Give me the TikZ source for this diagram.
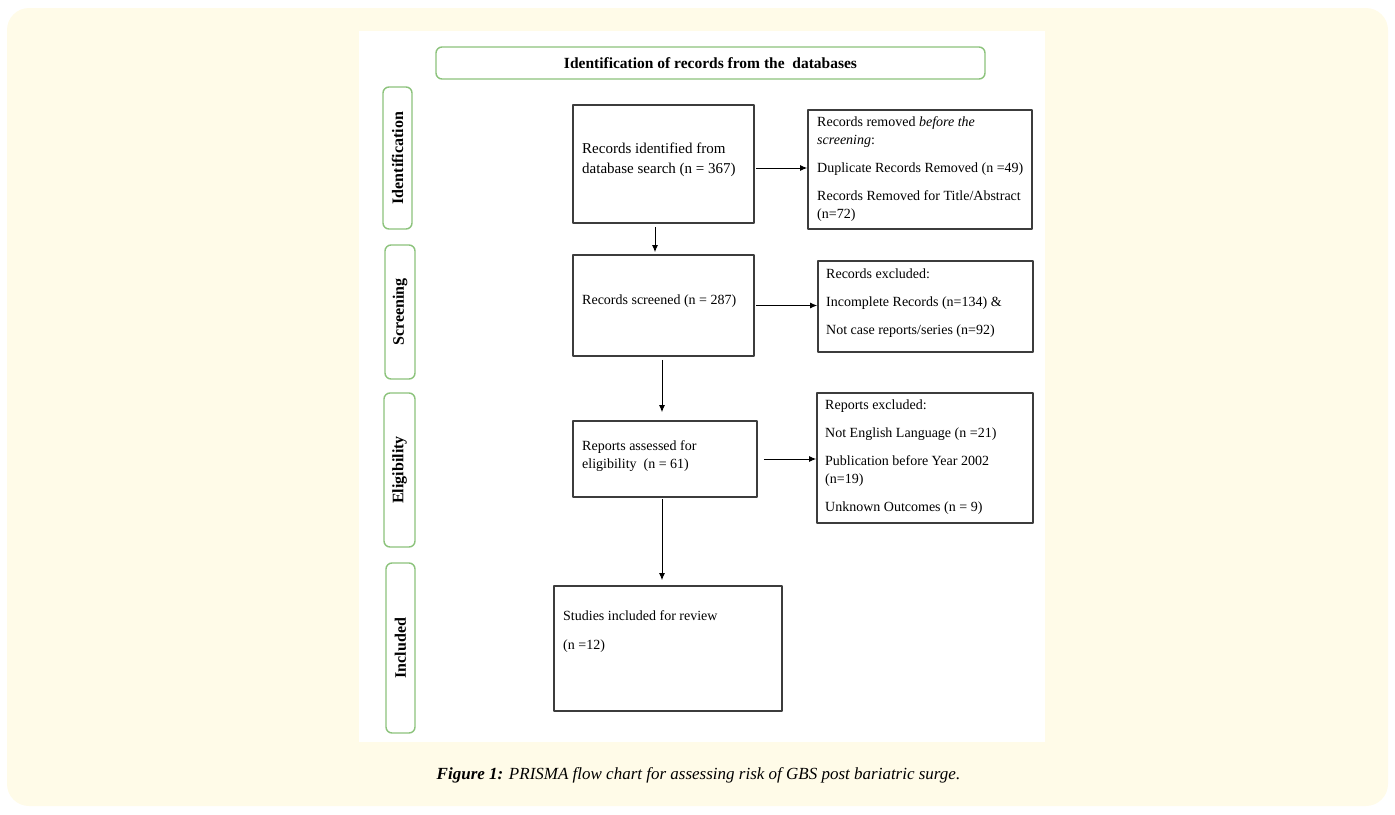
\documentclass[tikz,border=0pt]{standalone}
\usepackage{fontspec}
\setmainfont{Liberation Serif}
\usetikzlibrary{arrows.meta}
\definecolor{cream}{HTML}{FFFBE8}
\definecolor{stagegreen}{HTML}{8CC37C}
\definecolor{boxline}{HTML}{3C3C3C}
\begin{document}
\begin{tikzpicture}[x=1pt,y=-1pt,>={Latex[length=7pt,width=6pt]},line join=round,
  stage/.style={draw=stagegreen,line width=1.4pt,rounded corners=6pt,fill=white,rotate=90,inner sep=0pt,font=\fontsize{16}{16}\selectfont\bfseries},
  flowbox/.style={draw=boxline,line width=1.6pt,fill=white,inner sep=0pt},
  boxtext/.style={anchor=base west,align=left,inner sep=0pt,font=\fontsize{14}{18}\selectfont},
  flow/.style={->,line width=1pt}]
\useasboundingbox (0,0) rectangle (1395,814);
\fill[cream,rounded corners=22pt] (7,8) rectangle (1388,806);
\fill[white] (359,31) rectangle (1045,742);
% header and stages
\node[draw=stagegreen,line width=1.4pt,rounded corners=6pt,minimum width=549pt,minimum height=32pt,font=\fontsize{15.5}{15.5}\selectfont\bfseries] (header) at (710.5,63) {Identification of records from the\ \ databases};
\node[stage,minimum width=142pt,minimum height=29pt] (sident) at (397.5,158) {Identification};
\node[stage,minimum width=134pt,minimum height=30pt] (sscreen) at (400,312) {Screening};
\node[stage,minimum width=154pt,minimum height=31pt] (selig) at (399.5,470) {Eligibility};
\node[stage,minimum width=170pt,minimum height=29pt] (sincl) at (400.5,648) {Included};
% flow boxes
\node[flowbox,minimum width=181pt,minimum height=118pt] (ident) at (663.5,164) {};
\node[flowbox,minimum width=224pt,minimum height=119pt] (removed) at (920,169.5) {};
\node[flowbox,minimum width=181pt,minimum height=101pt] (screened) at (663.5,305.5) {};
\node[flowbox,minimum width=215pt,minimum height=91pt] (excluded) at (925.5,306.5) {};
\node[flowbox,minimum width=184pt,minimum height=76pt] (assessed) at (665,459) {};
\node[flowbox,minimum width=216pt,minimum height=130pt] (reports) at (925,458) {};
\node[flowbox,minimum width=228pt,minimum height=125pt] (included) at (668,648.5) {};
% box texts (anchored at the baseline of the last line)
\node[boxtext,font=\fontsize{15}{20}\selectfont] (identtxt) at (582,173) {Records identified from\\database search (n = 367)};
\node[boxtext] (removedtxt) at (817,218) {Records removed \textit{before the}\\\textit{screening}:\\[10pt]Duplicate Records Removed (n =49)\\[10pt]Records Removed for Title/Abstract\\(n=72)};
\node[boxtext] (screenedtxt) at (582,304) {Records screened (n = 287)};
\node[boxtext] (excludedtxt) at (826,334) {Records excluded:\\[10pt]Incomplete Records (n=134) \&\\[10pt]Not case reports/series (n=92)};
\node[boxtext] (assessedtxt) at (582,468) {Reports assessed for\\eligibility\ \ (n = 61)};
\node[boxtext] (reportstxt) at (825,511) {Reports excluded:\\[10pt]Not English Language (n =21)\\[10pt]Publication before Year 2002\\(n=19)\\[10pt]Unknown Outcomes (n = 9)};
\node[boxtext,font=\fontsize{14}{29}\selectfont] (includedtxt) at (563,649) {Studies included for review\\(n =12)};
% connectors
\draw[flow] ([xshift=1pt,yshift=-4pt]ident.east) -- ([yshift=-4pt]ident.east -| removed.west);
\draw[flow] ([xshift=1pt]screened.east) -- (screened.east -| excluded.west);
\draw[flow] ([xshift=6pt]assessed.east) -- (assessed.east -| reports.west);
\draw[flow,shorten <=3pt,shorten >=2pt] ([xshift=-8.5pt]ident.south) -- ([xshift=-8.5pt]ident.south |- screened.north);
\draw[flow,shorten <=3pt,shorten >=8pt] ([xshift=-1.5pt]screened.south) -- ([xshift=-1.5pt]screened.south |- assessed.north);
\draw[flow,shorten <=1pt,shorten >=5pt] ([xshift=-3pt]assessed.south) -- ([xshift=-3pt]assessed.south |- included.north);
% caption
\node[anchor=base,font=\fontsize{17}{17}\selectfont\itshape] (caption) at (698.5,779) {\textbf{Figure 1:} PRISMA flow chart for assessing risk of GBS post bariatric surge.};
\end{tikzpicture}
\end{document}
